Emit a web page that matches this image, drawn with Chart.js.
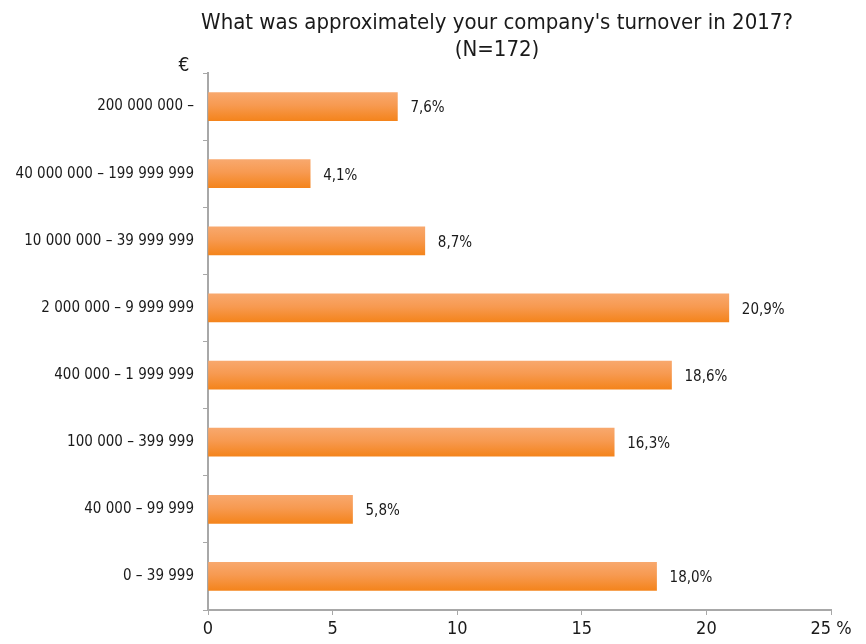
<!DOCTYPE html>
<html>
<head>
<meta charset="utf-8">
<script src="https://cdn.jsdelivr.net/npm/chart.js@4/dist/chart.umd.min.js"></script>
<style>
  html, body { margin: 0; padding: 0; background: #fff; }
  #wrap { width: 866px; height: 644px; }
</style>
</head>
<body>
<div id="wrap"><canvas id="c" width="866" height="644"></canvas></div>
<script>
// Turnover bands, listed top to bottom
const categories = [
  "200 000 000 –",
  "40 000 000 – 199 999 999",
  "10 000 000 – 39 999 999",
  "2 000 000 – 9 999 999",
  "400 000 – 1 999 999",
  "100 000 – 399 999",
  "40 000 – 99 999",
  "0 – 39 999"
];
// Share of respondents, %
const shares = [7.6, 4.1, 8.7, 20.9, 18.6, 16.3, 5.8, 18.0];
const xTicks = [0, 5, 10, 15, 20, 25];
const titleLines = ["What was approximately your company's turnover in 2017?", "(N=172)"];
const unitLabel = "€";

const NARROW = "'DejaVu Sans Condensed', 'Liberation Sans Narrow', sans-serif";
const TEXT = "#1a1a1a";
const AXIS = "#a8a8a8";
const BAR_T = 28;

function barFill(ctx) {
  const chart = ctx.chart;
  const y = chart.scales && chart.scales.y;
  if (!y || ctx.dataIndex === undefined) return "#f5892a";
  const c = y.getPixelForValue(ctx.dataIndex);
  if (!isFinite(c)) return "#f5892a";
  const g = chart.ctx.createLinearGradient(0, c - BAR_T / 2, 0, c + BAR_T / 2);
  g.addColorStop(0, "#f8a86d");
  g.addColorStop(0.45, "#f79a51");
  g.addColorStop(1, "#f4841c");
  return g;
}

const decor = {
  id: "decor",
  afterDraw(chart) {
    const { ctx, scales } = chart;
    ctx.save();
    ctx.fillStyle = TEXT;
    ctx.textAlign = "center";
    ctx.textBaseline = "middle";
    ctx.font = "22px " + NARROW;
    ctx.fillText(titleLines[0], 497, 23);
    ctx.fillText(titleLines[1], 497, 50);
    ctx.font = "19px " + NARROW;
    ctx.fillText(unitLabel, 184, 66);
    // value labels at the bar ends
    ctx.font = "15px " + NARROW;
    ctx.textAlign = "left";
    const meta = chart.getDatasetMeta(0);
    meta.data.forEach((bar, i) => {
      const v = shares[i];
      const x = scales.x.getPixelForValue(v);
      ctx.fillText(v.toFixed(1).replace(".", ",") + "%", x + 13, bar.y + 2);
    });
    ctx.restore();
  }
};

new Chart(document.getElementById("c"), {
  type: "bar",
  data: {
    labels: categories,
    datasets: [{
      data: shares,
      backgroundColor: barFill,
      borderWidth: 0,
      barThickness: BAR_T
    }]
  },
  options: {
    indexAxis: "y",
    responsive: false,
    animation: false,
    layout: { padding: { top: 73, right: 35, left: 0, bottom: 0 } },
    plugins: { legend: { display: false }, tooltip: { enabled: false } },
    scales: {
      x: {
        min: 0, max: 25,
        afterBuildTicks(s) { s.ticks = xTicks.map(v => ({ value: v })); },
        afterFit(s) { s.height = 34; },
        border: { color: AXIS, width: 2 },
        grid: { drawOnChartArea: false, tickLength: 5, color: AXIS, lineWidth: 1 },
        ticks: {
          color: TEXT,
          font: { family: NARROW, size: 18 },
          padding: 4,
          maxRotation: 0,
          callback: (v) => v === 25 ? "25 %" : String(v)
        }
      },
      y: {
        afterFit(s) { s.width = 208; },
        border: { color: AXIS, width: 2 },
        grid: { drawOnChartArea: false, tickLength: 5, color: AXIS, lineWidth: 1, offset: true },
        ticks: {
          color: TEXT,
          font: { family: NARROW, size: 15 },
          padding: 9
        }
      }
    }
  },
  plugins: [decor]
});
</script>
</body>
</html>
